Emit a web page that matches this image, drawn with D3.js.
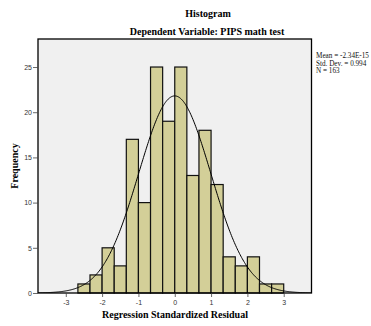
<!DOCTYPE html>
<html>
<head>
<meta charset="utf-8">
<script src="https://cdn.jsdelivr.net/npm/d3@7"></script>
<style>
  html, body { margin: 0; padding: 0; background: #fff; }
  svg { display: block; }
</style>
</head>
<body>
<svg id="chart" width="371" height="326"></svg>
<script>
// ---- data ----
const binEdges = [-8/3, -7/3, -2, -5/3, -4/3, -1, -2/3, -1/3, 0, 1/3, 2/3, 1, 4/3, 5/3, 2, 7/3, 8/3, 3];
const counts = [1, 2, 5, 3, 17, 10, 25, 19, 25, 13, 18, 12, 4, 3, 4, 1, 1];
const xTicks = [-3, -2, -1, 0, 1, 2, 3];
const yTicks = [0, 5, 10, 15, 20, 25];
const statsLines = ["Mean = -2.34E-15", "Std. Dev. = 0.994", "N = 163"];
const statMean = -2.34e-15, statSD = 0.994, statN = 163;
const titleText = "Histogram";
const subtitleText = "Dependent Variable: PIPS math test";
const xTitle = "Regression Standardized Residual";
const yTitle = "Frequency";

// ---- layout ----
const svg = d3.select("#chart");
const L = 38, R = 311.5, T = 39, B = 293;
const x = d3.scaleLinear().domain([-3.765, 3.765]).range([L, R]);
const y = d3.scaleLinear().domain([0, 28.1]).range([B, T]);

svg.append("rect").attr("x", L).attr("y", T).attr("width", R - L).attr("height", B - T)
  .attr("fill", "#f0f0f0");

svg.append("defs").append("clipPath").attr("id", "clip")
  .append("rect").attr("x", L).attr("y", T).attr("width", R - L).attr("height", B - T);

const bins = counts.map((c, i) => ({x0: binEdges[i], x1: binEdges[i + 1], c}));
svg.append("g").selectAll("rect").data(bins).join("rect")
  .attr("x", d => x(d.x0))
  .attr("y", d => y(d.c))
  .attr("width", d => x(d.x1) - x(d.x0))
  .attr("height", d => y(0) - y(d.c))
  .attr("fill", "#d3cf98")
  .attr("stroke", "#111")
  .attr("stroke-width", 1.2);

// normal curve from reported stats
const bw = binEdges[1] - binEdges[0];
const curvePts = d3.range(-3.8, 3.801, 0.02).map(v => [v,
  statN * bw * Math.exp(-0.5 * Math.pow((v - statMean) / statSD, 2)) / (statSD * Math.sqrt(2 * Math.PI))]);
svg.append("path").datum(curvePts)
  .attr("clip-path", "url(#clip)")
  .attr("fill", "none").attr("stroke", "#000").attr("stroke-width", 1)
  .attr("d", d3.line().x(d => x(d[0])).y(d => y(d[1])).curve(d3.curveBasis));

// frame
svg.append("rect").attr("x", L).attr("y", T).attr("width", R - L).attr("height", B - T)
  .attr("fill", "none").attr("stroke", "#000").attr("stroke-width", 1.3);

// axes
const yAxis = svg.append("g").attr("transform", `translate(${L},0)`)
  .call(d3.axisLeft(y).tickValues(yTicks).tickFormat(d => String(d)).tickSize(5).tickPadding(1));
const xAxis = svg.append("g").attr("transform", `translate(0,${B})`)
  .call(d3.axisBottom(x).tickValues(xTicks).tickFormat(d => String(d)).tickSize(4).tickPadding(3));
[yAxis, xAxis].forEach(a => {
  a.select(".domain").remove();
  a.selectAll("line").attr("stroke", "#444").attr("stroke-width", 0.8);
  a.selectAll("text").attr("fill", "#333")
    .style("font-family", "'Liberation Sans', Arial, sans-serif").style("font-size", "7px");
});

// titles
const serif = "'Liberation Serif', 'Times New Roman', serif";
svg.append("text").attr("x", 208).attr("y", 17).attr("text-anchor", "middle")
  .style("font-family", serif).style("font-weight", "bold").style("font-size", "10px")
  .text(titleText);
svg.append("text").attr("x", 207).attr("y", 35).attr("text-anchor", "middle")
  .style("font-family", serif).style("font-weight", "bold").style("font-size", "10px")
  .text(subtitleText);
svg.append("text").attr("x", 175).attr("y", 318).attr("text-anchor", "middle")
  .style("font-family", serif).style("font-weight", "bold").style("font-size", "10px")
  .text(xTitle);
svg.append("text").attr("transform", "translate(18,166) rotate(-90)").attr("text-anchor", "middle")
  .style("font-family", serif).style("font-weight", "bold").style("font-size", "10px")
  .text(yTitle);

// stats
svg.append("g").selectAll("text").data(statsLines).join("text")
  .attr("x", 316).attr("y", (d, i) => 58 + i * 7.6)
  .style("font-family", serif).style("font-size", "7.2px").attr("fill", "#111")
  .text(d => d);
</script>
</body>
</html>
